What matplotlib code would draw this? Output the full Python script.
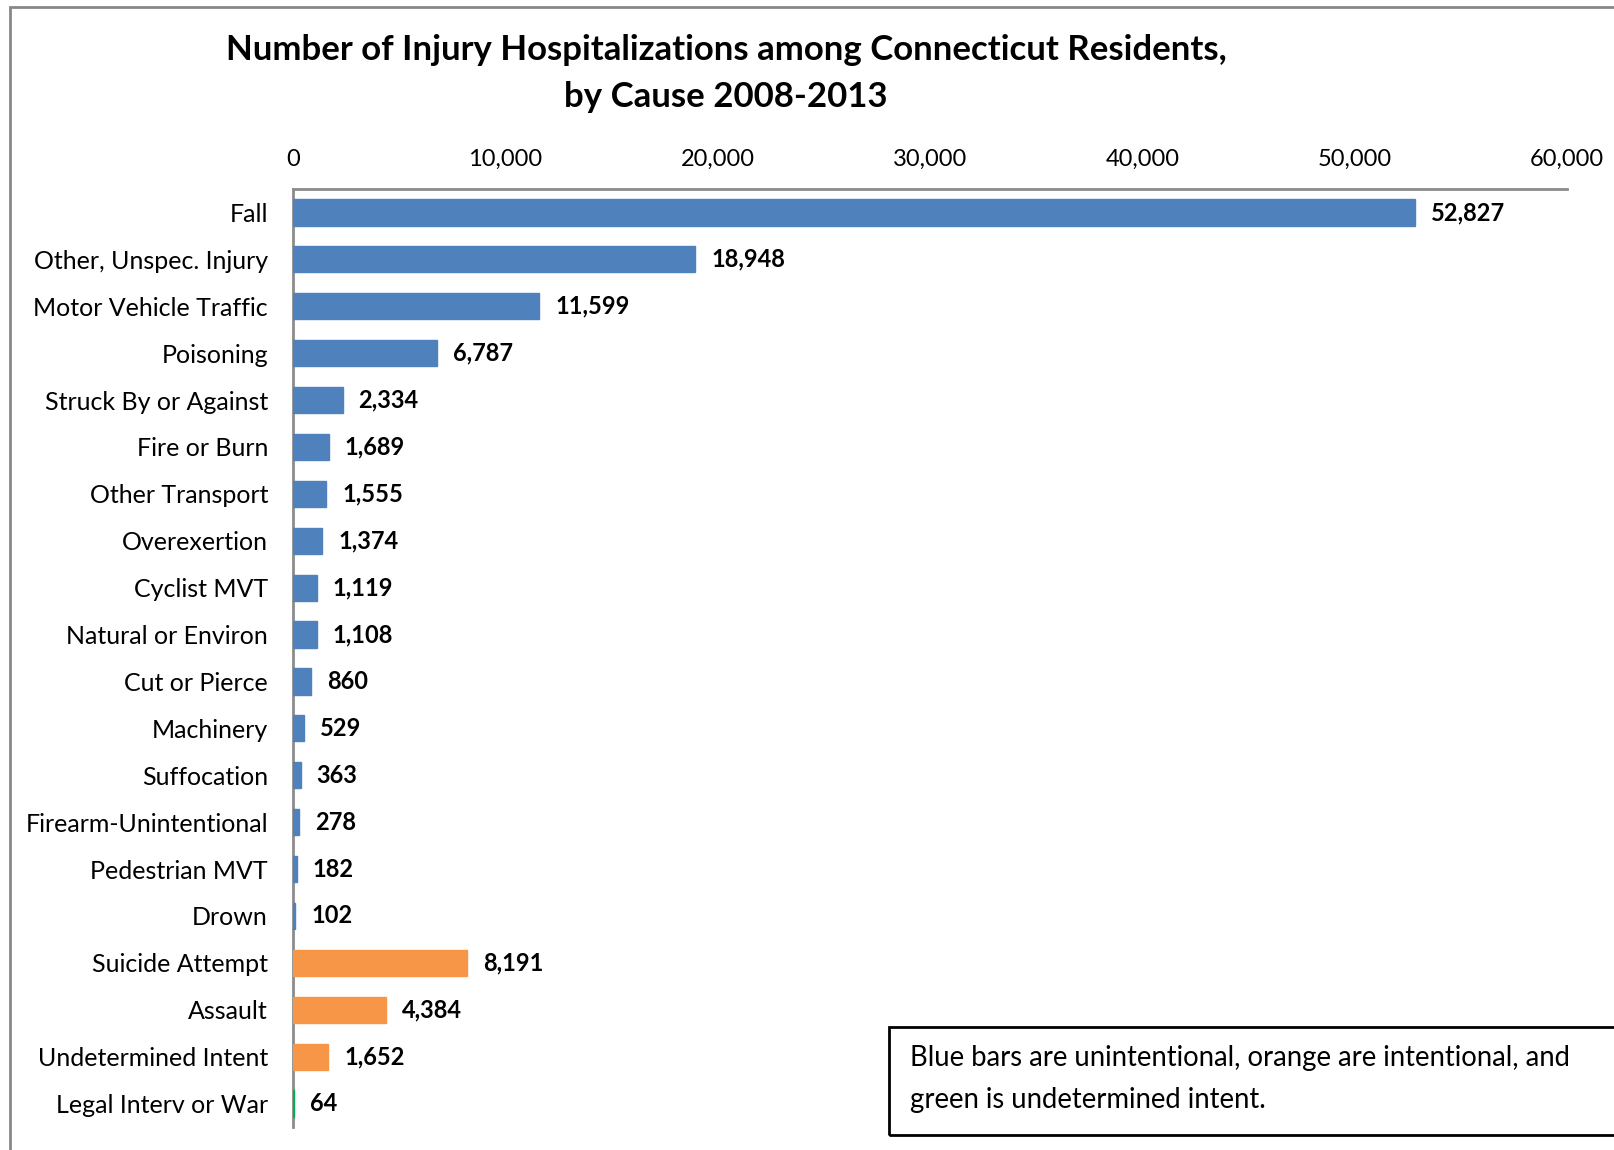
import matplotlib

matplotlib.use("Agg")

import matplotlib.pyplot as plt
from matplotlib.patches import Rectangle
from matplotlib.ticker import FuncFormatter

# dados
causas = [
    "Fall", "Other, Unspec. Injury", "Motor Vehicle Traffic", "Poisoning",
    "Struck By or Against", "Fire or Burn", "Other Transport", "Overexertion",
    "Cyclist MVT", "Natural or Environ", "Cut or Pierce", "Machinery",
    "Suffocation", "Firearm-Unintentional", "Pedestrian MVT", "Drown",
    "Suicide Attempt", "Assault", "Undetermined Intent", "Legal Interv or War",
]
internacoes = [
    52827, 18948, 11599, 6787, 2334, 1689, 1555, 1374, 1119, 1108,
    860, 529, 363, 278, 182, 102, 8191, 4384, 1652, 64,
]
tipo = ["unint"] * 16 + ["int"] * 3 + ["und"]
cores_tipo = {"unint": "#4F81BD", "int": "#F79646", "und": "#00B050"}
ticks_x = [0, 10000, 20000, 30000, 40000, 50000, 60000]

titulo_1 = "Number of Injury Hospitalizations among Connecticut Residents,"
titulo_2 = "by Cause 2008-2013"
nota = "Blue bars are unintentional, orange are intentional, and\ngreen is undetermined intent."

plt.rcParams["font.family"] = ["Lato", "DejaVu Sans"]

W, H = 1614, 1150
fig = plt.figure(figsize=(W / 100, H / 100), dpi=100)

# moldura cinza externa (sai pela direita e por baixo)
fig.patches.append(Rectangle((10 / W, -0.1), 1.2, 1 - 7 / H + 0.1,
                             transform=fig.transFigure, fill=False,
                             edgecolor="#888888", linewidth=2))

ax = fig.add_axes([293 / W, 1 - 1127 / H, (1567 - 293) / W, (1127 - 189) / H])

posicoes = list(range(len(causas)))
cores = [cores_tipo[t] for t in tipo]
ax.barh(posicoes, internacoes, height=0.56, color=cores, edgecolor=cores,
        linewidth=1, zorder=3)

for p, v in zip(posicoes, internacoes):
    ax.annotate(f"{v:,}", (v, p), xytext=(16, 0), textcoords="offset pixels",
                ha="left", va="center", fontsize=17, fontweight="bold")

ax.set_ylim(len(causas) - 0.5, -0.5)
ax.set_xlim(0, 60000)
ax.set_yticks(posicoes)
ax.set_yticklabels(causas, fontsize=18)
ax.set_xticks(ticks_x)
ax.xaxis.set_major_formatter(FuncFormatter(lambda v, _: f"{int(v):,}"))
ax.xaxis.tick_top()
ax.tick_params(axis="x", length=0, pad=14, labelsize=17)
ax.tick_params(axis="y", length=0, pad=18)

for lado in ["right", "bottom"]:
    ax.spines[lado].set_visible(False)
for lado in ["top", "left"]:
    ax.spines[lado].set_color("#8c8c8c")
    ax.spines[lado].set_linewidth(2)

fig.text(726 / W, 1 - 50 / H, titulo_1, ha="center", va="center",
         fontsize=25, fontweight="bold")
fig.text(726 / W, 1 - 97 / H, titulo_2, ha="center", va="center",
         fontsize=25, fontweight="bold")

# caixa de observação
fig.patches.append(Rectangle((889 / W, 1 - 1135 / H), 1.0, (1135 - 1027) / H,
                             transform=fig.transFigure, fill=False,
                             edgecolor="black", linewidth=2))
fig.text(910 / W, 1 - 1079 / H, nota, ha="left", va="center",
         fontsize=19.8, linespacing=1.75)

fig.savefig("out.png", dpi=100)
